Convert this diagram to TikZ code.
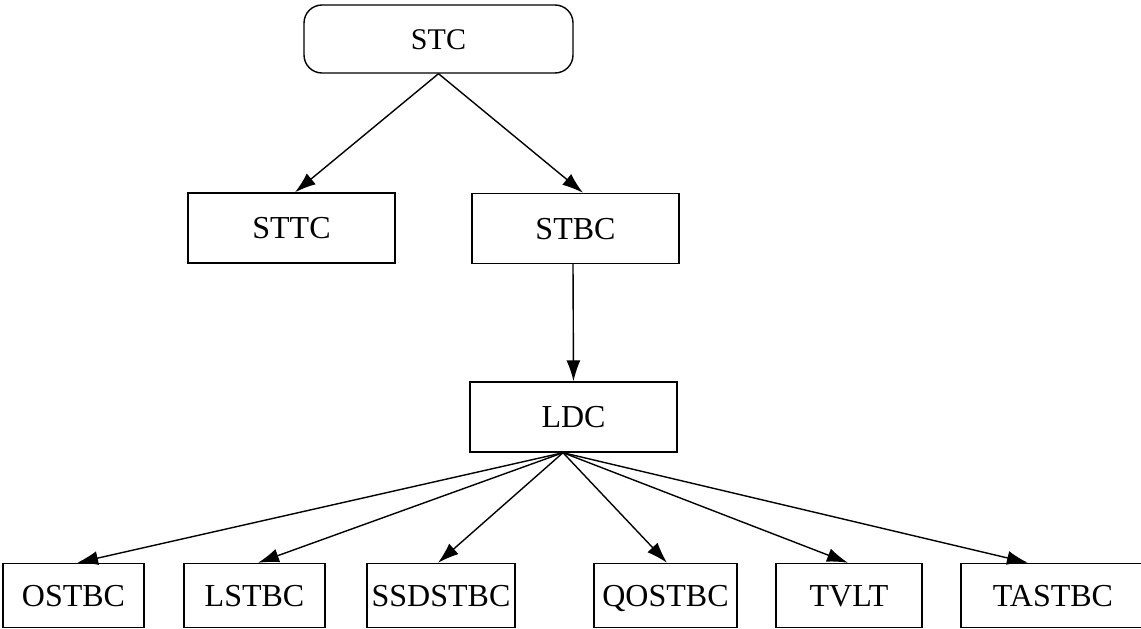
\documentclass[tikz,border=0pt]{standalone}
\usepackage{fontspec}
\setmainfont{Liberation Serif}
\usetikzlibrary{arrows.meta}
\begin{document}
\begin{tikzpicture}[x=1pt,y=-1pt,
  box/.style={draw,line width=1.4pt,inner sep=0pt,text height=21pt,text depth=0pt,font=\fontsize{32}{36}\selectfont},
  conn/.style={line width=1.4pt,-{Latex[length=21pt,width=14pt]}}]
\useasboundingbox (0,0) rectangle (1141,629);
\node[box,rounded corners=18pt,minimum width=269pt,minimum height=68pt,text height=20pt,font=\fontsize{30}{34}\selectfont] (STC) at (438.5,39) {STC};
\node[box,minimum width=207pt,minimum height=70pt] (STTC) at (291.5,228) {STTC};
\node[box,minimum width=207pt,minimum height=70pt] (STBC) at (575.5,228.5) {STBC};
\node[box,minimum width=207pt,minimum height=70pt] (LDC) at (573.5,417) {LDC};
\node[box,minimum width=141pt,minimum height=64pt] (OSTBC) at (73.5,595.5) {OSTBC};
\node[box,minimum width=141pt,minimum height=64pt] (LSTBC) at (254.5,595.5) {LSTBC};
\node[box,minimum width=148pt,minimum height=64pt] (SSDSTBC) at (441,595.5) {SSDSTBC};
\node[box,minimum width=143pt,minimum height=64pt] (QOSTBC) at (665.5,595.5) {QOSTBC};
\node[box,minimum width=146pt,minimum height=64pt] (TVLT) at (849,595.5) {TVLT};
\node[box,minimum width=184pt,minimum height=64pt] (TASTBC) at (1053,595.5) {TASTBC};
\coordinate (fan) at ([xshift=-10.5pt]LDC.south);
\draw[conn] (STC.south) -- ([xshift=3.5pt]STTC.north);
\draw[conn] (STC.south) -- ([xshift=7.5pt]STBC.north);
\draw[conn] ([xshift=-2.5pt]STBC.south) -- (LDC.north);
\draw[conn] (fan) -- ([xshift=3.5pt]OSTBC.north);
\draw[conn] (fan) -- ([xshift=3.5pt]LSTBC.north);
\draw[conn] (fan) -- ([xshift=-3pt]SSDSTBC.north);
\draw[conn] (fan) -- ([xshift=1.5pt]QOSTBC.north);
\draw[conn] (fan) -- ([xshift=-1pt]TVLT.north);
\draw[conn] (fan) -- ([xshift=-25pt]TASTBC.north);
\end{tikzpicture}
\end{document}
